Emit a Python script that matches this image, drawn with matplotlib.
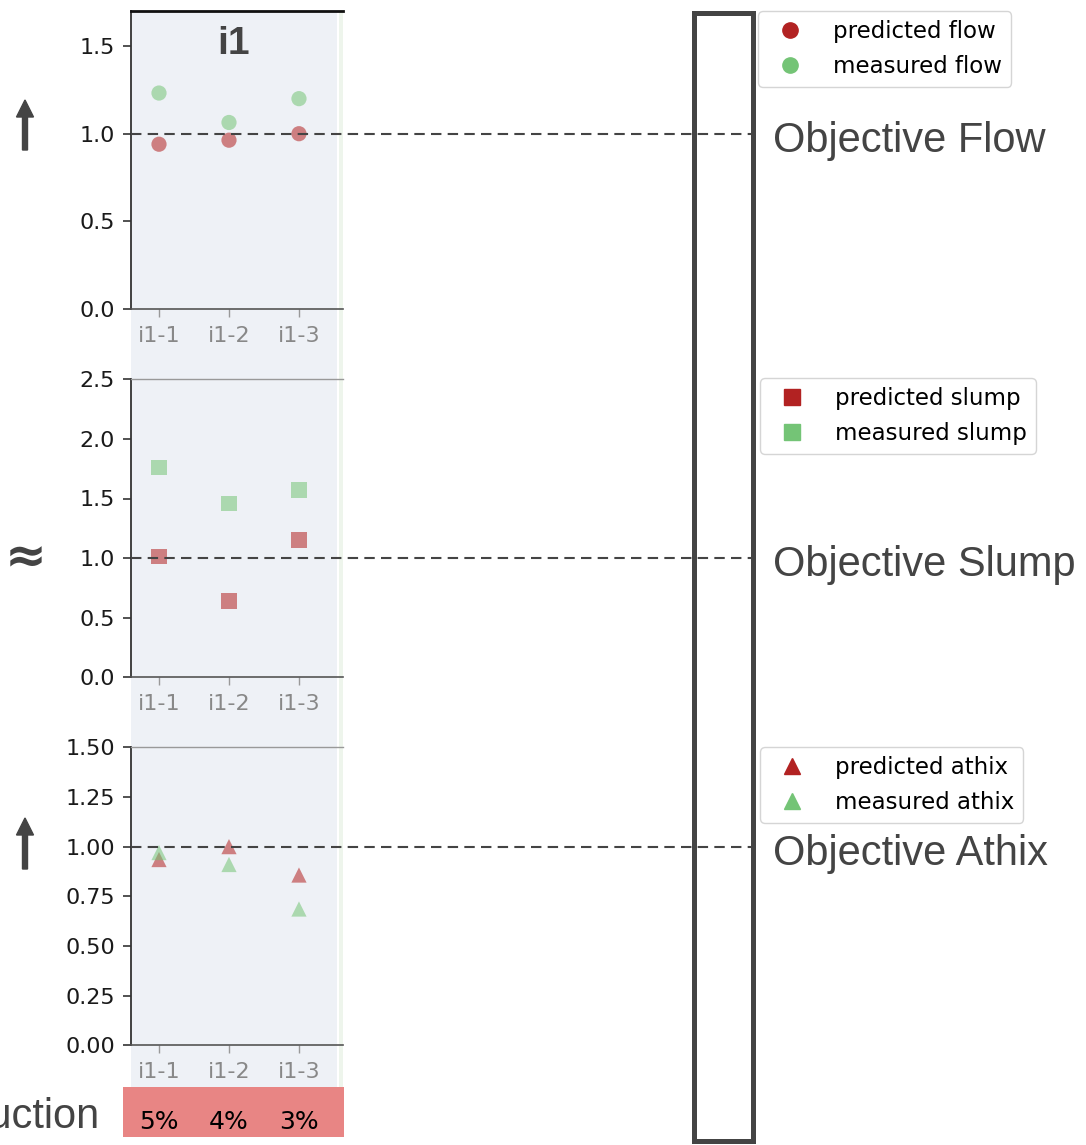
import numpy as np
import matplotlib.pyplot as plt
from matplotlib.lines import Line2D
from matplotlib.patches import Rectangle, FancyArrow
import matplotlib.transforms as mtransforms

W, H, DPI = 1086, 1145, 100

group = "i1"
samples = ["i1-1", "i1-2", "i1-3"]

flow_pred = [0.94, 0.963, 1.0]
flow_meas = [1.232, 1.064, 1.2]
slump_pred = [1.012, 0.64, 1.152]
slump_meas = [1.758, 1.46, 1.571]
athix_pred = [0.935, 1.0, 0.857]
athix_meas = [0.97, 0.91, 0.686]

objectives = [1.0, 1.0, 1.0]
objective_names = ["Objective Flow", "Objective Slump", "Objective Athix"]
prop_names = ["flow", "slump", "athix"]
markers = ["o", "s", "^"]
ylims = [(0, 1.7), (0, 2.5), (0, 1.5)]
yticks = [[0, 0.5, 1.0, 1.5],
          [0, 0.5, 1.0, 1.5, 2.0, 2.5],
          [0, 0.25, 0.5, 0.75, 1.0, 1.25, 1.5]]
reduction = [5, 4, 3]

RED = "#b22222"
GREEN = "#74c476"
DARK = "#444444"

pred = [flow_pred, slump_pred, athix_pred]
meas = [flow_meas, slump_meas, athix_meas]


def frac(x0, ytop, w, h):
    # pixel box (top-left origin) -> figure fraction rect
    return [x0 / W, 1 - (ytop + h) / H, w / W, h / H]


fig = plt.figure(figsize=(W / DPI, H / DPI), dpi=DPI)
fig.patch.set_facecolor("white")

# shaded column behind the panels + neighbour strip
fig.patches.append(Rectangle((131 / W, 1 - 1087 / H), 206 / W, 1076 / H,
                             transform=fig.transFigure, facecolor="#eef1f6",
                             edgecolor="none", zorder=-5))
fig.patches.append(Rectangle((339 / W, 1 - 1087 / H), 4 / W, 1076 / H,
                             transform=fig.transFigure, facecolor="#eef5ec",
                             edgecolor="none", zorder=-5))

ax_left, ax_w, ax_h = 131, 212, 298
ax_tops = [11, 379.3, 747.3]
line_end = 753

axes = []
for i in range(3):
    ax = fig.add_axes(frac(ax_left, ax_tops[i], ax_w, ax_h))
    ax.set_facecolor("none")
    x = np.arange(len(samples))
    ax.scatter(x, pred[i], marker=markers[i], s=120, color=RED, alpha=0.55,
               edgecolors="none", zorder=3)
    ax.scatter(x, meas[i], marker=markers[i], s=120, color=GREEN, alpha=0.55,
               edgecolors="none", zorder=3)
    ax.axhline(objectives[i], xmin=0, xmax=(line_end - ax_left) / ax_w,
               clip_on=False, color=DARK, lw=1.5, ls=(0, (5, 3)), zorder=4)
    ax.set_xlim(-0.4, 2.629)
    ax.set_ylim(*ylims[i])
    ax.set_yticks(yticks[i])
    ax.set_xticks(x)
    ax.set_xticklabels(samples)
    ax.tick_params(axis="y", length=6, width=1.2, color="#333333",
                   labelsize=16, labelcolor="#1a1a1a", pad=5.5)
    ax.tick_params(axis="x", length=6, width=1, color="#999999",
                   labelsize=16, labelcolor="#888888", pad=6)
    ax.spines["right"].set_visible(False)
    ax.spines["left"].set_color("#333333")
    ax.spines["left"].set_linewidth(1.3)
    ax.spines["bottom"].set_color("#555555")
    ax.spines["bottom"].set_linewidth(1.2)
    if i == 0:
        ax.spines["top"].set_color("#111111")
        ax.spines["top"].set_linewidth(2)
    else:
        ax.spines["top"].set_color("#999999")
        ax.spines["top"].set_linewidth(1)

    # objective label next to the dashed line
    ax.annotate(objective_names[i], xy=(773 / W, objectives[i]),
                xycoords=(fig.transFigure, ax.transData),
                xytext=(0, -18), textcoords="offset pixels",
                ha="left", va="baseline", fontsize=30,
                family="Liberation Sans", color=DARK)

    handles = [Line2D([], [], ls="none", marker=markers[i], ms=11, color=RED,
                      label=f"predicted {prop_names[i]}"),
               Line2D([], [], ls="none", marker=markers[i], ms=11, color=GREEN,
                      label=f"measured {prop_names[i]}")]
    leg_x = [758, 760, 760][i]
    leg_top = [11, 378, 747][i]
    leg = fig.legend(handles=handles, loc="upper left",
                     bbox_to_anchor=(leg_x / W, 1 - leg_top / H),
                     borderaxespad=0, fontsize=16.5, handlelength=2.0,
                     handletextpad=0.87, framealpha=1, edgecolor="#d5d5d5")
    axes.append(ax)

# group title
fig.text(234 / W, 1 - 44 / H, group, ha="center", va="center", fontsize=28,
         weight="bold", family="Liberation Sans", color=DARK)

# objective direction marks
for tail, tip in [(150, 100), (869, 818)]:
    fig.patches.append(FancyArrow(0.25, (H - tail) / DPI, 0, (tail - tip) / DPI,
                                  width=0.05, head_width=0.17, head_length=0.17,
                                  length_includes_head=True,
                                  transform=fig.dpi_scale_trans,
                                  color=DARK, zorder=5))
fig.text(26 / W, 1 - 558 / H, "≈", ha="center", va="center", fontsize=36,
         weight="bold", color=DARK)

# reduction row
fig.patches.append(Rectangle((123 / W, 1 - 1137 / H), 221 / W, 50 / H,
                             transform=fig.transFigure, facecolor="#e88584",
                             edgecolor="none", zorder=1))
fig.text(100 / W, 1 - 1128.5 / H, "Reduction", ha="right", va="baseline",
         fontsize=30, family="Liberation Sans", color=DARK)
trans = mtransforms.blended_transform_factory(axes[2].transData, fig.transFigure)
for xi, r in enumerate(reduction):
    fig.text(xi, 1 - 1129 / H, f"{r}%", transform=trans, ha="center",
             va="baseline", fontsize=18, color="black", zorder=2)

# outlined column on the right
fig.patches.append(Rectangle((693.5 / W, 4 / H), 59.5 / W, 1128 / H,
                             transform=fig.transFigure, facecolor="none",
                             edgecolor=DARK, lw=3.6, zorder=6))

fig.savefig("out.png", dpi=DPI)
